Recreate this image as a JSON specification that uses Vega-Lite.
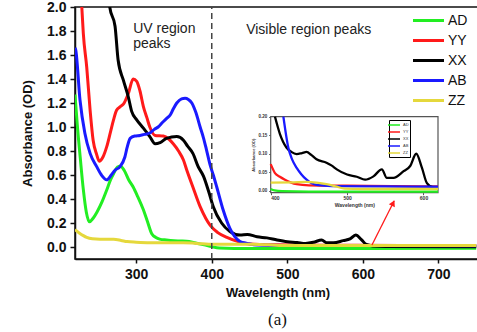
{
  "$schema": "https://vega.github.io/schema/vega-lite/v6.json",
  "autosize": "none",
  "width": 405,
  "height": 252,
  "padding": {"left": 75, "top": 7, "right": 0, "bottom": 73},
  "background": "white",
  "config": {
    "font": "Liberation Sans",
    "view": {"stroke": "#111", "strokeWidth": 1.5},
    "axis": {"grid": false}
  },
  "title": {"text": "(a)", "orient": "bottom", "font": "Liberation Serif", "fontSize": 17, "fontWeight": "normal", "anchor": "middle", "offset": 13, "color": "#111"},
  "datasets": {
    "main": [
      {"s":"AD","wl":219,"a":1.27},{"s":"AD","wl":222,"a":1.02},{"s":"AD","wl":226,"a":0.74},{"s":"AD","wl":230,"a":0.48},{"s":"AD","wl":234,"a":0.29},{"s":"AD","wl":238,"a":0.21},{"s":"AD","wl":243,"a":0.24},{"s":"AD","wl":248,"a":0.29},{"s":"AD","wl":255,"a":0.38},{"s":"AD","wl":261,"a":0.475},{"s":"AD","wl":266,"a":0.56},{"s":"AD","wl":270,"a":0.61},{"s":"AD","wl":275,"a":0.665},{"s":"AD","wl":279,"a":0.675},{"s":"AD","wl":284,"a":0.64},{"s":"AD","wl":290,"a":0.56},{"s":"AD","wl":296,"a":0.5},{"s":"AD","wl":302,"a":0.42},{"s":"AD","wl":309.5,"a":0.31},{"s":"AD","wl":315,"a":0.21},{"s":"AD","wl":320.6,"a":0.11},{"s":"AD","wl":326,"a":0.08},{"s":"AD","wl":331,"a":0.066},{"s":"AD","wl":340,"a":0.058},{"s":"AD","wl":350,"a":0.052},{"s":"AD","wl":360,"a":0.05},{"s":"AD","wl":370,"a":0.045},{"s":"AD","wl":380,"a":0.032},{"s":"AD","wl":390,"a":0.018},{"s":"AD","wl":400,"a":0.003},{"s":"AD","wl":410,"a":-0.008},{"s":"AD","wl":430,"a":-0.012},{"s":"AD","wl":500,"a":-0.013},{"s":"AD","wl":600,"a":-0.012},{"s":"AD","wl":750,"a":-0.01},
      {"s":"YY","wl":219,"a":3.0},{"s":"YY","wl":224,"a":2.4},{"s":"YY","wl":228,"a":2.0},{"s":"YY","wl":230,"a":1.78},{"s":"YY","wl":234.5,"a":1.5},{"s":"YY","wl":239,"a":1.14},{"s":"YY","wl":243,"a":0.89},{"s":"YY","wl":247.7,"a":0.77},{"s":"YY","wl":251,"a":0.715},{"s":"YY","wl":256,"a":0.75},{"s":"YY","wl":261,"a":0.836},{"s":"YY","wl":266,"a":0.96},{"s":"YY","wl":270,"a":1.06},{"s":"YY","wl":274,"a":1.14},{"s":"YY","wl":279,"a":1.17},{"s":"YY","wl":283,"a":1.19},{"s":"YY","wl":289.6,"a":1.28},{"s":"YY","wl":296,"a":1.4},{"s":"YY","wl":300.7,"a":1.38},{"s":"YY","wl":305,"a":1.3},{"s":"YY","wl":309.5,"a":1.17},{"s":"YY","wl":314,"a":1.08},{"s":"YY","wl":318,"a":1.0},{"s":"YY","wl":325,"a":0.93},{"s":"YY","wl":336,"a":0.925},{"s":"YY","wl":343,"a":0.9},{"s":"YY","wl":349,"a":0.86},{"s":"YY","wl":356,"a":0.8},{"s":"YY","wl":362.5,"a":0.725},{"s":"YY","wl":367,"a":0.64},{"s":"YY","wl":375,"a":0.5},{"s":"YY","wl":384.6,"a":0.336},{"s":"YY","wl":392,"a":0.24},{"s":"YY","wl":398,"a":0.18},{"s":"YY","wl":408,"a":0.12},{"s":"YY","wl":420,"a":0.08},{"s":"YY","wl":435,"a":0.045},{"s":"YY","wl":450,"a":0.025},{"s":"YY","wl":480,"a":0.018},{"s":"YY","wl":550,"a":0.015},{"s":"YY","wl":650,"a":0.012},{"s":"YY","wl":750,"a":0.01},
      {"s":"XX","wl":250,"a":3.2},{"s":"XX","wl":260,"a":2.4},{"s":"XX","wl":265,"a":2.0},{"s":"XX","wl":272,"a":1.84},{"s":"XX","wl":276,"a":1.56},{"s":"XX","wl":283,"a":1.39},{"s":"XX","wl":289.6,"a":1.25},{"s":"XX","wl":294,"a":1.13},{"s":"XX","wl":300.7,"a":1.06},{"s":"XX","wl":309.5,"a":0.99},{"s":"XX","wl":318,"a":0.92},{"s":"XX","wl":325,"a":0.86},{"s":"XX","wl":331.6,"a":0.87},{"s":"XX","wl":340,"a":0.905},{"s":"XX","wl":353.7,"a":0.92},{"s":"XX","wl":362.5,"a":0.89},{"s":"XX","wl":368,"a":0.84},{"s":"XX","wl":375,"a":0.78},{"s":"XX","wl":382,"a":0.67},{"s":"XX","wl":389,"a":0.59},{"s":"XX","wl":396,"a":0.46},{"s":"XX","wl":402,"a":0.336},{"s":"XX","wl":413,"a":0.2},{"s":"XX","wl":424,"a":0.13},{"s":"XX","wl":437.5,"a":0.1},{"s":"XX","wl":447,"a":0.105},{"s":"XX","wl":460,"a":0.085},{"s":"XX","wl":473,"a":0.076},{"s":"XX","wl":486.5,"a":0.058},{"s":"XX","wl":500,"a":0.044},{"s":"XX","wl":513,"a":0.038},{"s":"XX","wl":524,"a":0.03},{"s":"XX","wl":534.5,"a":0.039},{"s":"XX","wl":545.5,"a":0.058},{"s":"XX","wl":552,"a":0.035},{"s":"XX","wl":561,"a":0.035},{"s":"XX","wl":574,"a":0.053},{"s":"XX","wl":583,"a":0.067},{"s":"XX","wl":590.5,"a":0.1},{"s":"XX","wl":598,"a":0.062},{"s":"XX","wl":604.5,"a":0.021},{"s":"XX","wl":613,"a":0.009},{"s":"XX","wl":630,"a":0.005},{"s":"XX","wl":750,"a":0.003},
      {"s":"AB","wl":219,"a":1.66},{"s":"AB","wl":220,"a":1.64},{"s":"AB","wl":225.6,"a":1.225},{"s":"AB","wl":232,"a":0.95},{"s":"AB","wl":239,"a":0.78},{"s":"AB","wl":247.7,"a":0.67},{"s":"AB","wl":254,"a":0.6},{"s":"AB","wl":261,"a":0.56},{"s":"AB","wl":267,"a":0.6},{"s":"AB","wl":272,"a":0.64},{"s":"AB","wl":278.6,"a":0.67},{"s":"AB","wl":285,"a":0.75},{"s":"AB","wl":288,"a":0.83},{"s":"AB","wl":292,"a":0.905},{"s":"AB","wl":298,"a":0.925},{"s":"AB","wl":305,"a":0.93},{"s":"AB","wl":312,"a":0.94},{"s":"AB","wl":318,"a":0.95},{"s":"AB","wl":324,"a":0.98},{"s":"AB","wl":329,"a":1.0},{"s":"AB","wl":335,"a":1.04},{"s":"AB","wl":340,"a":1.07},{"s":"AB","wl":345,"a":1.1},{"s":"AB","wl":349,"a":1.15},{"s":"AB","wl":353.7,"a":1.2},{"s":"AB","wl":360,"a":1.235},{"s":"AB","wl":364.7,"a":1.24},{"s":"AB","wl":369,"a":1.23},{"s":"AB","wl":373.6,"a":1.2},{"s":"AB","wl":379,"a":1.12},{"s":"AB","wl":384.6,"a":1.0},{"s":"AB","wl":389,"a":0.91},{"s":"AB","wl":393,"a":0.81},{"s":"AB","wl":398,"a":0.68},{"s":"AB","wl":402,"a":0.6},{"s":"AB","wl":406.6,"a":0.5},{"s":"AB","wl":415,"a":0.31},{"s":"AB","wl":424,"a":0.155},{"s":"AB","wl":430,"a":0.09},{"s":"AB","wl":437.5,"a":0.045},{"s":"AB","wl":447,"a":0.03},{"s":"AB","wl":460,"a":0.016},{"s":"AB","wl":500,"a":0.013},{"s":"AB","wl":600,"a":0.012},{"s":"AB","wl":750,"a":0.01},
      {"s":"ZZ","wl":219,"a":0.145},{"s":"ZZ","wl":225,"a":0.115},{"s":"ZZ","wl":230,"a":0.095},{"s":"ZZ","wl":234.5,"a":0.08},{"s":"ZZ","wl":242,"a":0.068},{"s":"ZZ","wl":252,"a":0.064},{"s":"ZZ","wl":262,"a":0.064},{"s":"ZZ","wl":270,"a":0.064},{"s":"ZZ","wl":280,"a":0.055},{"s":"ZZ","wl":288,"a":0.045},{"s":"ZZ","wl":300,"a":0.04},{"s":"ZZ","wl":318,"a":0.036},{"s":"ZZ","wl":340,"a":0.036},{"s":"ZZ","wl":362,"a":0.036},{"s":"ZZ","wl":380,"a":0.03},{"s":"ZZ","wl":402,"a":0.022},{"s":"ZZ","wl":450,"a":0.022},{"s":"ZZ","wl":475,"a":0.018},{"s":"ZZ","wl":500,"a":0.012},{"s":"ZZ","wl":550,"a":0.012},{"s":"ZZ","wl":650,"a":0.012},{"s":"ZZ","wl":750,"a":0.012}
    ],
    "inset": [
      {"s":"AD","wl":400,"a":0.005},{"s":"AD","wl":405,"a":0.001},{"s":"AD","wl":415,"a":-0.001},{"s":"AD","wl":450,"a":-0.002},{"s":"AD","wl":619,"a":-0.002},
      {"s":"YY","wl":400,"a":0.072},{"s":"YY","wl":405.6,"a":0.048},{"s":"YY","wl":412,"a":0.038},{"s":"YY","wl":418.7,"a":0.03},{"s":"YY","wl":426,"a":0.023},{"s":"YY","wl":434,"a":0.018},{"s":"YY","wl":450,"a":0.015},{"s":"YY","wl":500,"a":0.014},{"s":"YY","wl":560,"a":0.013},{"s":"YY","wl":619,"a":0.012},
      {"s":"XX","wl":405.6,"a":0.2},{"s":"XX","wl":412,"a":0.154},{"s":"XX","wl":420.6,"a":0.117},{"s":"XX","wl":427,"a":0.105},{"s":"XX","wl":434,"a":0.099},{"s":"XX","wl":441,"a":0.102},{"s":"XX","wl":447,"a":0.105},{"s":"XX","wl":453,"a":0.097},{"s":"XX","wl":460,"a":0.085},{"s":"XX","wl":473,"a":0.076},{"s":"XX","wl":480,"a":0.068},{"s":"XX","wl":486.5,"a":0.058},{"s":"XX","wl":500,"a":0.044},{"s":"XX","wl":512.7,"a":0.038},{"s":"XX","wl":523.6,"a":0.03},{"s":"XX","wl":534.5,"a":0.039},{"s":"XX","wl":545.5,"a":0.058},{"s":"XX","wl":552,"a":0.035},{"s":"XX","wl":560.7,"a":0.035},{"s":"XX","wl":574,"a":0.053},{"s":"XX","wl":582.6,"a":0.067},{"s":"XX","wl":590.5,"a":0.1},{"s":"XX","wl":598,"a":0.062},{"s":"XX","wl":604.5,"a":0.021},{"s":"XX","wl":613,"a":0.009},{"s":"XX","wl":619,"a":0.008},
      {"s":"AB","wl":416.6,"a":0.2},{"s":"AB","wl":423,"a":0.117},{"s":"AB","wl":428,"a":0.085},{"s":"AB","wl":434,"a":0.062},{"s":"AB","wl":440,"a":0.045},{"s":"AB","wl":447,"a":0.03},{"s":"AB","wl":460,"a":0.016},{"s":"AB","wl":480,"a":0.013},{"s":"AB","wl":550,"a":0.012},{"s":"AB","wl":619,"a":0.011},
      {"s":"ZZ","wl":400,"a":0.022},{"s":"ZZ","wl":430,"a":0.023},{"s":"ZZ","wl":447,"a":0.024},{"s":"ZZ","wl":460,"a":0.022},{"s":"ZZ","wl":473,"a":0.018},{"s":"ZZ","wl":485,"a":0.012},{"s":"ZZ","wl":497,"a":0.006},{"s":"ZZ","wl":520,"a":0.005},{"s":"ZZ","wl":619,"a":0.005}
    ]
  },
  "layer": [
    {
      "encoding": {
        "x": {"field": "wl", "type": "quantitative",
          "scale": {"domain": [219, 755], "nice": false, "zero": false},
          "axis": {"orient": "bottom", "values": [300, 400, 500, 600, 700], "title": "Wavelength (nm)", "labelFontSize": 14, "labelFontWeight": "bold", "labelColor": "#111", "titleFontSize": 13, "titleFontWeight": "bold", "titleColor": "#111", "titlePadding": 5, "domainColor": "#111", "domainWidth": 1.5, "tickColor": "#111", "tickWidth": 1.5, "tickSize": 4, "labelPadding": 4}},
        "y": {"field": "a", "type": "quantitative",
          "scale": {"domain": [-0.1, 2.0], "nice": false, "zero": false},
          "axis": {"orient": "left", "values": [0, 0.2, 0.4, 0.6, 0.8, 1.0, 1.2, 1.4, 1.6, 1.8, 2.0], "format": ".1f", "title": "Absorbance (OD)", "labelFontSize": 14, "labelFontWeight": "bold", "labelColor": "#111", "titleFontSize": 13, "titleFontWeight": "bold", "titleColor": "#111", "titlePadding": 12, "domainColor": "#111", "domainWidth": 1.5, "tickColor": "#111", "tickWidth": 1.5, "tickSize": 5, "labelPadding": 4}}
      },
      "layer": [
        {
          "data": {"name": "main"},
          "mark": {"type": "line", "strokeWidth": 3, "interpolate": "monotone", "clip": true},
          "encoding": {
            "color": {"field": "s", "type": "nominal",
              "scale": {"domain": ["AD", "YY", "XX", "AB", "ZZ"], "range": ["#22ee22", "#ff1a1a", "#000000", "#1a1aff", "#e5d83c"]},
              "legend": {"orient": "none", "legendX": 344, "legendY": 4, "title": null, "symbolType": "M-2,0H2", "symbolSize": 240, "symbolStrokeWidth": 3, "labelFontSize": 14, "labelColor": "#111", "rowPadding": 3, "padding": 0, "labelOffset": 10}}
          }
        },
        {
          "data": {"values": [{"wl": 400, "lo": -0.1, "hi": 2.0}]},
          "mark": {"type": "rule", "strokeDash": [6, 4], "color": "#444", "strokeWidth": 1.5},
          "encoding": {"y": {"field": "lo"}, "y2": {"field": "hi"}}
        },
        {
          "data": {"values": [{"t": "UV region", "wl": 296, "a": 1.82}, {"t": "peaks", "wl": 296, "a": 1.695}, {"t": "Visible region peaks", "wl": 445.5, "a": 1.81}]},
          "mark": {"type": "text", "align": "left", "baseline": "middle", "fontSize": 14, "color": "#222"},
          "encoding": {"text": {"field": "t"}}
        },
        {
          "data": {"values": [{"wl": 612, "a": 0.017, "wl2": 641.5, "a2": 0.385}]},
          "mark": {"type": "rule", "color": "#ff1a1a", "strokeWidth": 1.3},
          "encoding": {"x2": {"field": "wl2"}, "y2": {"field": "a2"}}
        },
        {
          "data": {"values": [{"wl": 640, "a": 0.365}]},
          "mark": {"type": "point", "shape": "triangle-up", "filled": true, "color": "#ff1a1a", "size": 45, "angle": 26, "opacity": 1},
          "encoding": {}
        }
      ]
    },
    {
      "encoding": {
        "x": {"field": "wl", "type": "quantitative",
          "scale": {"domain": [400, 619], "range": [195.7, 363], "nice": false, "zero": false},
          "axis": {"orient": "bottom", "offset": -66.3, "values": [400, 500, 600], "title": "Wavelength (nm)", "labelFontSize": 5, "labelFontWeight": "bold", "labelColor": "#333", "titleFontSize": 5, "titleFontWeight": "bold", "titleColor": "#333", "titlePadding": 2, "domain": false, "tickColor": "#555", "tickSize": 2, "labelPadding": 1}},
        "y": {"field": "a", "type": "quantitative",
          "scale": {"domain": [-0.005, 0.2], "range": [185.7, 109.7], "nice": false, "zero": false},
          "axis": {"orient": "left", "offset": -195.7, "values": [0, 0.05, 0.1, 0.15, 0.2], "format": ".2f", "title": "Absorbance (OD)", "labelFontSize": 4.5, "labelFontWeight": "bold", "labelColor": "#333", "titleFontSize": 4, "titleColor": "#333", "titlePadding": 2, "domain": false, "tickColor": "#555", "tickSize": 2, "labelPadding": 2}}
      },
      "layer": [
        {
          "data": {"values": [{"wl": 400, "wl2": 619, "a": -0.005, "a2": 0.2}]},
          "mark": {"type": "rect", "fill": "white", "stroke": "#555", "strokeWidth": 1.2},
          "encoding": {"x2": {"field": "wl2"}, "y2": {"field": "a2"}}
        },
        {
          "data": {"name": "inset"},
          "mark": {"type": "line", "strokeWidth": 2.3, "interpolate": "monotone"},
          "encoding": {
            "color": {"field": "s", "type": "nominal",
              "scale": {"domain": ["AD", "YY", "XX", "AB", "ZZ"], "range": ["#22ee22", "#ff1a1a", "#000000", "#1a1aff", "#e5d83c"]},
              "legend": {"orient": "none", "legendX": 314, "legendY": 113, "title": null, "symbolType": "M-2,0H2", "symbolSize": 36, "symbolStrokeWidth": 1.5, "labelFontSize": 4, "labelColor": "#333", "rowPadding": 0, "padding": 1, "labelOffset": 5, "strokeColor": "#000"}}
          }
        }
      ]
    }
  ],
  "resolve": {"scale": {"x": "independent", "y": "independent", "color": "independent"}}
}
